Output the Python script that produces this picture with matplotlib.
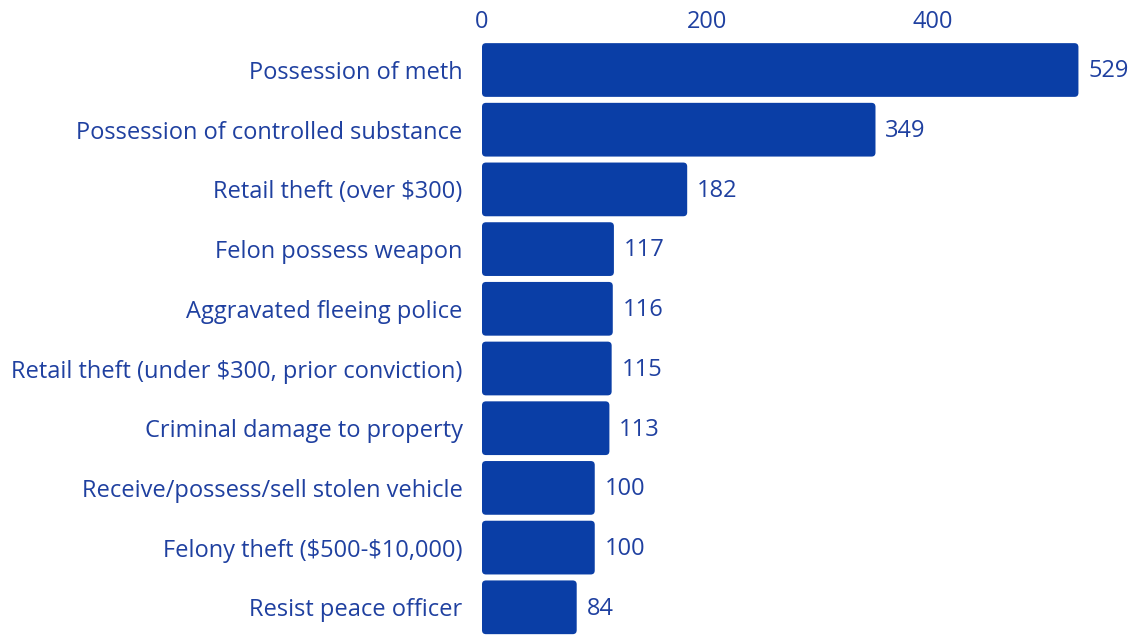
import matplotlib.pyplot as plt
from matplotlib.patches import FancyBboxPatch

offenses = [
    "Possession of meth",
    "Possession of controlled substance",
    "Retail theft (over \\$300)",
    "Felon possess weapon",
    "Aggravated fleeing police",
    "Retail theft (under \\$300, prior conviction)",
    "Criminal damage to property",
    "Receive/possess/sell stolen vehicle",
    "Felony theft (\\$500-\\$10,000)",
    "Resist peace officer",
]
counts = [529, 349, 182, 117, 116, 115, 113, 100, 100, 84]
xticks = [0, 200, 400]

bar_color = "#0a3ea6"
text_color = "#1f40a0"

plt.rcParams["font.family"] = ["Open Sans", "DejaVu Sans"]

fig = plt.figure(figsize=(11.4, 6.35), dpi=100)
ax = fig.add_axes([0.4228, 0.0, 0.5772, 0.937])

ax.set_xlim(0, 583.6)
ax.set_ylim(9.464, -0.5025)

ypos = list(range(len(offenses)))
bars = ax.barh(ypos, counts, height=0.9, color=bar_color)

# swap the plain rectangles for ones with slightly rounded corners
bbox = ax.get_window_extent()
px_x = bbox.width / (ax.get_xlim()[1] - ax.get_xlim()[0])
px_y = bbox.height / abs(ax.get_ylim()[0] - ax.get_ylim()[1])
for rect in bars:
    x0, y0 = rect.get_xy()
    w, h = rect.get_width(), rect.get_height()
    ax.add_patch(FancyBboxPatch((x0, y0), w, h,
                                boxstyle="round,pad=0,rounding_size=%f" % (4 / px_x),
                                mutation_aspect=px_x / px_y,
                                facecolor=bar_color, edgecolor="none"))
    rect.set_visible(False)

for y, v in zip(ypos, counts):
    ax.annotate(str(v), (v, y), xytext=(7, -1), textcoords="offset points",
                va="center", ha="left", fontsize=17, color=text_color)

ax.set_yticks(ypos)
ax.set_yticklabels(offenses)
ax.set_xticks(xticks)
ax.xaxis.tick_top()
ax.tick_params(axis="both", length=0, labelsize=17, labelcolor=text_color)
ax.tick_params(axis="y", pad=14)
ax.tick_params(axis="x", pad=4)

for side in ax.spines.values():
    side.set_visible(False)

fig.savefig("out.png", dpi=100)
